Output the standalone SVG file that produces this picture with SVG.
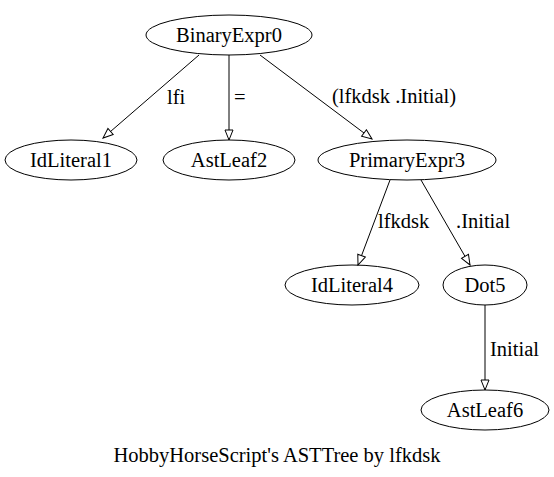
<svg xmlns="http://www.w3.org/2000/svg" width="554" height="477" viewBox="0 0 554 477">
<style>
text{font-family:"Liberation Serif","Times New Roman",serif;font-size:20.5px;fill:#000;text-anchor:middle}
ellipse{fill:none;stroke:#000;stroke-width:1}
.e{stroke:#000;stroke-width:1;fill:none;marker-end:url(#arr)}
.l{text-anchor:start}
</style>
<defs>
<marker id="arr" markerUnits="userSpaceOnUse" markerWidth="12" markerHeight="10" viewBox="-1 -5 12 10" refX="10" refY="0" orient="auto">
<path d="M0,-4 L10,0 L0,4 Z" fill="#fff" stroke="#000" stroke-width="1"/>
</marker>
</defs>
<rect width="554" height="477" fill="#fff"/>
<g id="edges">
<path class="e" d="M199,55 L103,138"/>
<text class="l" x="167" y="104">lfi</text>
<path class="e" d="M229,55 L229,140"/>
<text class="l" x="234" y="104">=</text>
<path class="e" d="M260,55 L372,139"/>
<text class="l" x="332" y="103">(lfkdsk .Initial)</text>
<path class="e" d="M390,180 L358,265"/>
<text class="l" x="378" y="228">lfkdsk</text>
<path class="e" d="M421,180 L470,265"/>
<text class="l" x="456" y="228">.Initial</text>
<path class="e" d="M485,305 L485,390"/>
<text class="l" x="490" y="356">Initial</text>
</g>
<g id="BinaryExpr0"><ellipse cx="229" cy="35" rx="83" ry="20"/><text x="229" y="42">BinaryExpr0</text></g>
<g id="IdLiteral1"><ellipse cx="71" cy="160" rx="66" ry="20"/><text x="71" y="167">IdLiteral1</text></g>
<g id="AstLeaf2"><ellipse cx="229" cy="160" rx="66" ry="20"/><text x="229" y="167">AstLeaf2</text></g>
<g id="PrimaryExpr3"><ellipse cx="407" cy="160" rx="89" ry="20"/><text x="407" y="167">PrimaryExpr3</text></g>
<g id="IdLiteral4"><ellipse cx="352" cy="285" rx="67" ry="20"/><text x="352" y="292">IdLiteral4</text></g>
<g id="Dot5"><ellipse cx="485" cy="285" rx="42" ry="20"/><text x="485" y="292">Dot5</text></g>
<g id="AstLeaf6"><ellipse cx="485" cy="410" rx="64" ry="20"/><text x="485" y="417">AstLeaf6</text></g>
<text x="277" y="462">HobbyHorseScript's ASTTree by lfkdsk</text>
</svg>
